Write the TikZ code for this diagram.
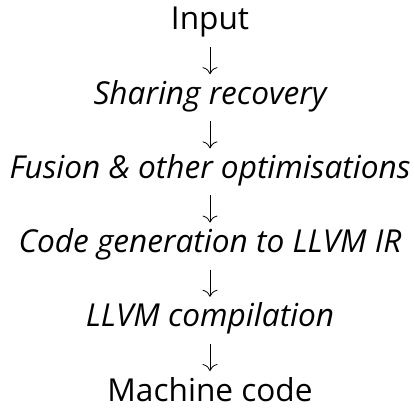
\documentclass[tikz,border=0pt]{standalone}
\usepackage{fontspec}
\setmainfont{Open Sans}
\usetikzlibrary{arrows.meta}
\tikzset{
  stage/.style={anchor=base, inner sep=0pt, font=\fontsize{31.6}{36}\selectfont},
  istage/.style={stage, font=\fontsize{31.6}{36}\selectfont\itshape},
  flow/.style={line width=0.8pt, -{To[length=7pt,width=15pt]}, shorten <=17pt, shorten >=30pt}
}
\begin{document}
\begin{tikzpicture}[x=1pt,y=1pt]
\useasboundingbox (0,0) rectangle (414,408);
\node[stage]  (in)   at (210,378) {Input};
\node[istage] (share) at (210,303.8) {Sharing recovery};
\node[istage] (fuse) at (210,229.6) {Fusion \& other optimisations};
\node[istage] (gen)  at (210,155.4) {Code generation to LLVM IR};
\node[istage] (llvm) at (210,81.2) {LLVM compilation};
\node[stage]  (mc)   at (210,7) {Machine code};
\draw[flow] (in.base) -- (share.base);
\draw[flow] (share.base) -- (fuse.base);
\draw[flow] (fuse.base) -- (gen.base);
\draw[flow] (gen.base) -- (llvm.base);
\draw[flow] (llvm.base) -- (mc.base);
\end{tikzpicture}
\end{document}
